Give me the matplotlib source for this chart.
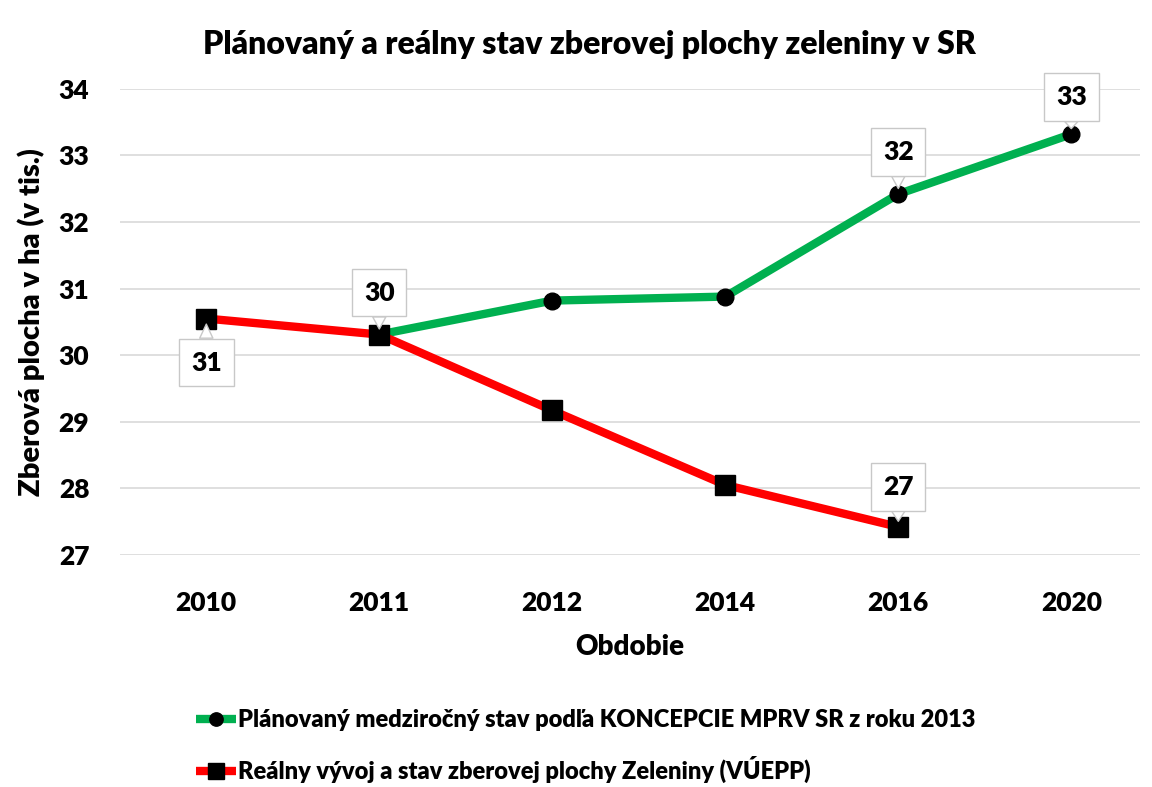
import matplotlib
matplotlib.use("Agg")
import matplotlib.pyplot as plt

plt.rcParams['font.family'] = ['Lato', 'DejaVu Sans']
plt.rcParams['font.weight'] = 'heavy'

years = ['2010', '2011', '2012', '2014', '2016', '2020']
plan = [None, 30.31, 30.82, 30.88, 32.42, 33.32]
real = [30.55, 30.31, 29.17, 28.05, 27.42, None]

plan_name = 'Plánovaný medziročný stav podľa KONCEPCIE MPRV SR z roku 2013'
real_name = 'Reálny vývoj a stav zberovej plochy Zeleniny (VÚEPP)'

# which points carry a data label and on which side (px offset)
plan_labels = {4: 42, 5: 37}
real_labels = {0: -44, 1: 42, 4: 40}

fig = plt.figure(figsize=(11.52, 7.87), dpi=100)
ax = fig.add_axes([0.104, 0.295, 0.886, 0.592])

px = [i for i, v in enumerate(plan) if v is not None]
py = [v for v in plan if v is not None]
rx = [i for i, v in enumerate(real) if v is not None]
ry = [v for v in real if v is not None]

ax.plot(px, py, color='#00B050', lw=6, marker='o', ms=12,
        mfc='black', mec='black', label=plan_name, zorder=3, solid_capstyle='butt')
ax.plot(rx, ry, color='#FF0000', lw=6, marker='s', ms=14,
        mfc='black', mec='black', label=real_name, zorder=4, solid_capstyle='butt')


def label(i, v, off):
    ax.annotate(f'{v:.0f}', xy=(i, v), xytext=(0, off), textcoords='offset pixels',
                ha='center', va='center', fontsize=19, fontweight='heavy', zorder=6,
                bbox=dict(boxstyle='square,pad=0.45', fc='white', ec='#c8c8c8', lw=1),
                arrowprops=dict(arrowstyle='wedge,tail_width=0.5', fc='white',
                                ec='#c8c8c8', lw=1, shrinkA=0, shrinkB=4))


for i, off in plan_labels.items():
    label(i, plan[i], off)
for i, off in real_labels.items():
    label(i, real[i], off)

ax.set_ylim(27, 34)
ax.set_xlim(-0.5, 5.4)
ax.set_yticks(range(27, 35))
ax.set_xticks(range(len(years)))
ax.set_xticklabels(years)
ax.tick_params(length=0, labelsize=19)
ax.tick_params(axis='x', pad=26)
ax.tick_params(axis='y', pad=22)
ax.grid(axis='y', color='#d9d9d9', lw=1.2)
ax.set_axisbelow(True)
for s in ax.spines.values():
    s.set_visible(False)

ax.set_ylabel('Zberová plocha v ha (v tis.)', fontsize=21, fontweight='heavy', labelpad=10)
ax.set_xlabel('Obdobie', fontsize=20, fontweight='heavy', labelpad=14)
fig.suptitle('Plánovaný a reálny stav zberovej plochy zeleniny v SR', x=0.512, y=0.962,
             fontsize=23, fontweight='heavy')

fig.legend(loc='center left', bbox_to_anchor=(0.152, 0.052), frameon=False,
           fontsize=17, handlelength=1.7, handletextpad=0.05, labelspacing=1.05,
           markerscale=0.8)

fig.savefig('out.png', dpi=100)
